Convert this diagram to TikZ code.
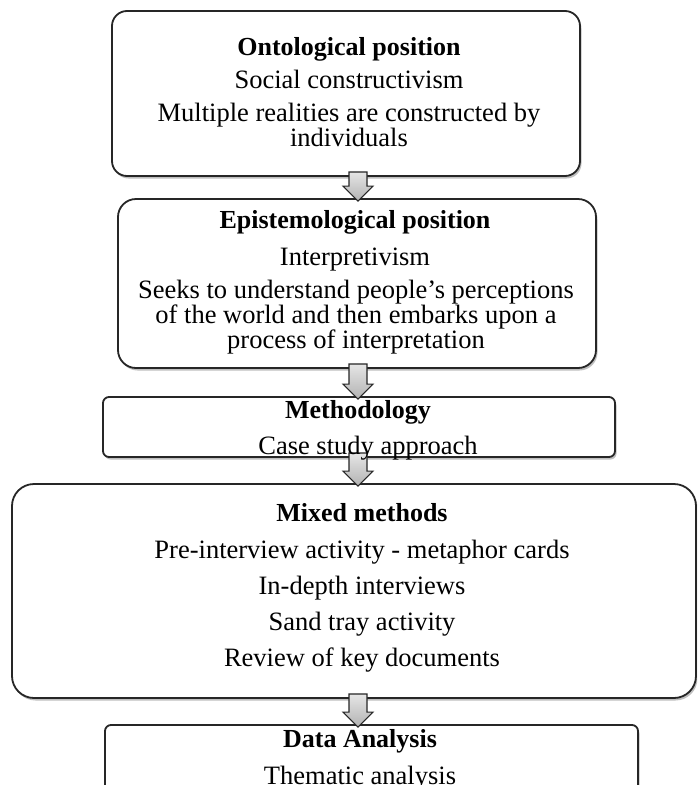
\documentclass[tikz,border=0pt]{standalone}
\usepackage{fontspec}
\setmainfont{Liberation Serif}
\usetikzlibrary{shadows,calc}
% block arrow between two stacked boxes, drawn on a common vertical axis (ax)
\newcommand\flowarrow[2]{%
  \path[blockarrow] let \p1=(#1.south -| ax), \p2=(#2.north -| ax) in
    (\x1-9pt,\y1+5pt) -- (\x1+9pt,\y1+5pt) -- (\x1+9pt,\y2+12pt) --
    (\x1+15pt,\y2+12pt) -- (\x2,\y2-3pt) -- (\x1-15pt,\y2+12pt) --
    (\x1-9pt,\y2+12pt) -- cycle;}
\begin{document}
\begin{tikzpicture}[x=1pt,y=1pt,
  box/.style={draw=black!85, line width=1.8pt, fill=white, rounded corners=#1,
    inner sep=0pt, drop shadow={shadow xshift=1.5pt, shadow yshift=-2.5pt,
    opacity=0.25, fill=black}},
  head/.style={font=\fontsize{26}{30}\selectfont\bfseries, inner sep=0pt, anchor=base},
  txt/.style={font=\fontsize{26.5}{30}\selectfont, inner sep=0pt, anchor=base},
  blockarrow/.style={draw=black!85, line width=1.2pt, top color=gray!20,
    bottom color=gray!60, line join=miter}]
\fill[white] (0,0) rectangle (697,-785);
\clip (0,0) rectangle (697,-785);
\coordinate (ax) at (358,0);

% boxes
\node[box=15pt, minimum width=468pt, minimum height=165pt] (b1) at (346,-93.5) {};
\node[box=18pt, minimum width=478pt, minimum height=169pt] (b2) at (357,-283.5) {};
\node[box=6pt, minimum width=512pt, minimum height=60pt] (b3) at (359,-427) {};
\node[box=22pt, minimum width=684pt, minimum height=214pt] (b4) at (354,-591) {};
\node[box=6pt, minimum width=533pt, minimum height=85pt] (b5) at (371.5,-767.5) {};

% connectors
\flowarrow{b1}{b2}
\flowarrow{b2}{b3}
\flowarrow{b3}{b4}
\flowarrow{b4}{b5}

% texts
\node[head] (h1) at (349,-55) {Ontological position};
\node[txt] (l11) at (349,-88) {Social constructivism};
\node[txt] (l12) at (349,-121) {Multiple realities are constructed by};
\node[txt] (l13) at (349,-146) {individuals};

\node[head] (h2) at (355,-228) {Epistemological position};
\node[txt] (l21) at (355,-265) {Interpretivism};
\node[txt] (l22) at (356,-298) {Seeks to understand people's perceptions};
\node[txt] (l23) at (356,-323) {of the world and then embarks upon a};
\node[txt] (l24) at (356,-348) {process of interpretation};

\node[head] (h3) at (358,-418) {Methodology};
\node[txt] (l31) at (368,-454) {Case study approach};

\node[head] (h4) at (362,-521) {Mixed methods};
\node[txt] (l41) at (362,-558) {Pre-interview activity - metaphor cards};
\node[txt] (l42) at (362,-594) {In-depth interviews};
\node[txt] (l43) at (362,-630) {Sand tray activity};
\node[txt] (l44) at (362,-666) {Review of key documents};

\node[head] (h5) at (360,-747) {Data Analysis};
\node[txt] (l51) at (360,-784) {Thematic analysis};
\end{tikzpicture}
\end{document}
